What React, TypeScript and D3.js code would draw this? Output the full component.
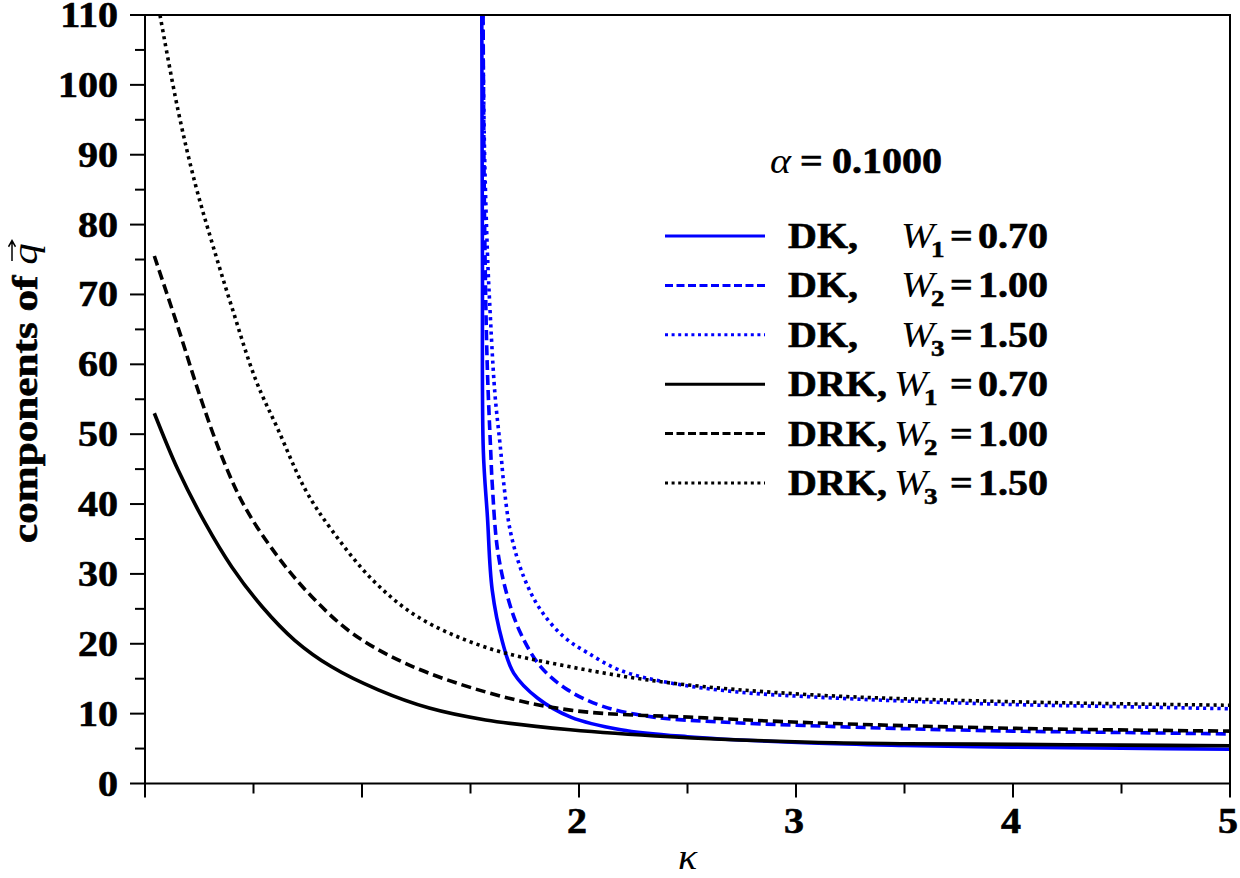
import React, { useRef, useState, useLayoutEffect } from 'react';
import * as d3 from 'd3';

// ---------- data ----------
const xMajorTicks = [0, 1, 2, 3, 4, 5];
const xTickLabels = ['', '', '2', '3', '4', '5'];
const xMinorTicks = [0.5, 1.5, 2.5, 3.5, 4.5];
const yMajorTicks = [0, 10, 20, 30, 40, 50, 60, 70, 80, 90, 100, 110];
const yMinorTicks = [5, 15, 25, 35, 45, 55, 65, 75, 85, 95, 105];

// DK (blue)
const dkW1Kappa = [1.552, 1.555, 1.559, 1.578, 1.6, 1.647, 1.699, 1.81, 1.962, 2.193, 2.5, 3.07, 3.5, 4.0, 4.5, 5.0];
const dkW1Values = [110, 75, 47.7, 38.2, 27.7, 20.3, 15.8, 12.2, 9.5, 7.7, 6.7, 5.8, 5.45, 5.2, 5.05, 4.9];

const dkW2Kappa = [1.558, 1.565, 1.577, 1.593, 1.6, 1.625, 1.671, 1.731, 1.824, 1.948, 2.114, 2.345, 2.655, 3.04, 3.5, 4.0, 4.5, 5.0];
const dkW2Values = [110, 80, 60, 47.7, 43.0, 33.4, 26.7, 21.5, 16.7, 13.4, 11.0, 9.5, 8.8, 8.3, 7.85, 7.5, 7.3, 7.1];

const dkW3Kappa = [1.556, 1.565, 1.578, 1.588, 1.612, 1.639, 1.653, 1.685, 1.745, 1.824, 1.93, 2.04, 2.19, 2.42, 2.73, 3.07, 3.5, 4.0, 4.5, 5.0];
const dkW3Values = [110, 90, 76, 69, 56, 47.7, 43, 35.9, 29.6, 24.8, 21.0, 18.7, 16.2, 14.4, 13.1, 12.4, 11.8, 11.3, 11.0, 10.7];

// DRK (black)
const drkW1Kappa = [0.043, 0.152, 0.277, 0.4, 0.54, 0.69, 0.86, 1.075, 1.31, 1.57, 1.96, 2.42, 3.07, 3.5, 4.0, 4.5, 5.0];
const drkW1Values = [53.0, 44.9, 37.3, 31.0, 25.3, 20.5, 16.7, 13.4, 10.8, 9.1, 7.7, 6.7, 5.9, 5.7, 5.6, 5.5, 5.4];

const drkW2Kappa = [0.043, 0.15, 0.254, 0.354, 0.46, 0.614, 0.77, 0.955, 1.2, 1.57, 1.96, 2.58, 3.07, 4.0, 5.0];
const drkW2Values = [75.5, 65.5, 55.4, 46.8, 39.6, 32.4, 26.7, 21.5, 17.2, 13.1, 10.5, 9.4, 8.7, 7.9, 7.5];

const drkW3Kappa = [0.069, 0.152, 0.23, 0.31, 0.4, 0.51, 0.614, 0.74, 0.86, 1.05, 1.26, 1.57, 1.96, 2.42, 3.07, 4.0, 5.0];
const drkW3Values = [110, 96.4, 86, 77.3, 68.2, 57.8, 50.6, 42.0, 36.3, 29.1, 23.8, 19.5, 16.7, 14.4, 12.7, 11.7, 11.2];

const legendMethods = ['DK,', 'DK,', 'DK,', 'DRK,', 'DRK,', 'DRK,'];
const legendSubs = ['1', '2', '3', '1', '2', '3'];
const legendWValues = ['0.70', '1.00', '1.50', '0.70', '1.00', '1.50'];

const BLUE = '#0000ff';
const BLACK = '#000000';

const series = [
  { k: dkW1Kappa, v: dkW1Values, color: BLUE, style: 'solid' },
  { k: dkW2Kappa, v: dkW2Values, color: BLUE, style: 'dashed' },
  { k: dkW3Kappa, v: dkW3Values, color: BLUE, style: 'dotted' },
  { k: drkW1Kappa, v: drkW1Values, color: BLACK, style: 'solid' },
  { k: drkW2Kappa, v: drkW2Values, color: BLACK, style: 'dashed' },
  { k: drkW3Kappa, v: drkW3Values, color: BLACK, style: 'dotted' },
];

const curveDash: Record<string, string | undefined> = { solid: undefined, dashed: '10,5', dotted: '3.2,4' };
const legendDash: Record<string, string | undefined> = { solid: undefined, dashed: '8,3.5', dotted: '3,3.6' };

const FONT = '"Liberation Serif", serif';
const SQ = 0.89;

function T(props: any) {
  const { x, y, anchor = 'start', size = 40, italic = false, bold = true, children } = props;
  return (
    <text
      transform={`translate(${x},${y}) scale(1,${SQ})`}
      textAnchor={anchor}
      fontFamily={FONT}
      fontSize={size}
      fontStyle={italic ? 'italic' : 'normal'}
      fontWeight={bold ? 'bold' : 'normal'}
      fill="#000"
      stroke={bold ? '#000' : 'none'}
      strokeWidth={bold ? 0.7 : 0}
    >
      {children}
    </text>
  );
}

export default function App() {
  const left = 145, right = 1230, top = 15, bottom = 783.5;
  const x = d3.scaleLinear().domain([0, 5]).range([left, right]);
  const y = d3.scaleLinear().domain([0, 110]).range([bottom, top]);

  const line = d3
    .line<[number, number]>()
    .x((d) => x(d[0]))
    .y((d) => y(d[1]))
    .curve(d3.curveCatmullRom.alpha(0.5));

  const labelRef = useRef<SVGTextElement>(null);
  const [qx, setQx] = useState(235);
  useLayoutEffect(() => {
    if (labelRef.current) setQx(labelRef.current.getComputedTextLength() + 9);
  }, []);

  const rowY0 = 236;
  const rowStep = 49.4;

  return (
    <svg
      width={1240}
      height={878}
      viewBox="0 0 1240 878"
      style={{ position: 'absolute', left: 0, top: 0, background: '#fff' }}
    >
      <rect x={0} y={0} width={1240} height={878} fill="#fff" />
      <defs>
        <clipPath id="plotClip">
          <rect x={left} y={top} width={right - left} height={bottom - top} />
        </clipPath>
      </defs>

      {/* curves */}
      <g clipPath="url(#plotClip)">
        {series.map((s, i) => (
          <path
            key={i}
            d={line(s.k.map((kk, j) => [kk, s.v[j]] as [number, number])) || ''}
            fill="none"
            stroke={s.color}
            strokeWidth={3.6}
            strokeDasharray={curveDash[s.style]}
          />
        ))}
      </g>

      {/* frame */}
      <path
        d={`M${left},${top} L${right},${top} L${right},${bottom} L${left},${bottom} Z`}
        fill="none"
        stroke="#000"
        strokeWidth={2}
      />

      {/* y ticks */}
      {yMajorTicks.map((t) => (
        <g key={'ym' + t}>
          <line x1={left - 15} x2={left} y1={y(t)} y2={y(t)} stroke="#000" strokeWidth={2} />
          <T x={118} y={y(t) + 12} anchor="end">
            {t}
          </T>
        </g>
      ))}
      {yMinorTicks.map((t) => (
        <line key={'yn' + t} x1={left - 10} x2={left} y1={y(t)} y2={y(t)} stroke="#000" strokeWidth={2} />
      ))}

      {/* x ticks */}
      {xMajorTicks.map((t, i) => (
        <g key={'xm' + t}>
          <line x1={x(t)} x2={x(t)} y1={bottom} y2={bottom + 14} stroke="#000" strokeWidth={2} />
          {xTickLabels[i] !== '' && (
            <T x={x(t) - 2} y={833} anchor="middle">
              {xTickLabels[i]}
            </T>
          )}
        </g>
      ))}
      {xMinorTicks.map((t) => (
        <line key={'xn' + t} x1={x(t)} x2={x(t)} y1={bottom} y2={bottom + 10} stroke="#000" strokeWidth={2} />
      ))}

      {/* x label */}
      <T x={(left + right) / 2} y={869} anchor="middle" italic bold={false}>
        κ
      </T>

      {/* y label */}
      <g transform={`translate(37,543) rotate(-90) scale(1.2,1)`}>
        <text
          ref={labelRef}
          x={0}
          y={0}
          fontFamily={FONT}
          fontSize={36}
          fontWeight="bold"
          fill="#000"
          stroke="#000"
          strokeWidth={0.6}
        >
          components of
        </text>
        <text x={qx} y={0} fontFamily={FONT} fontSize={36} fontStyle="italic" fill="#000">
          q
        </text>
        <path
          d={`M${qx + 3},-25 L${qx + 20},-25 M${qx + 15},-28.5 L${qx + 20},-25 L${qx + 15},-21.5`}
          fill="none"
          stroke="#000"
          strokeWidth={1.5}
        />
      </g>

      {/* alpha */}
      <T x={770} y={173} italic bold={false}>α</T>
      <T x={800} y={173}>=</T>
      <T x={832} y={173}>0.1000</T>

      {/* legend */}
      {series.map((s, i) => {
        const ry = rowY0 + i * rowStep;
        const isDK = i < 3;
        const wx = isDK ? 901 : 894;
        return (
          <g key={'lg' + i}>
            <line
              x1={665}
              x2={765}
              y1={ry}
              y2={ry}
              stroke={s.color}
              strokeWidth={3}
              strokeDasharray={legendDash[s.style]}
            />
            <T x={788} y={ry + 12}>{legendMethods[i]}</T>
            <T x={wx} y={ry + 12} italic bold={false}>W</T>
            <T x={wx + 30} y={ry + 21} size={27}>{legendSubs[i]}</T>
            <T x={950} y={ry + 12}>=</T>
            <T x={978} y={ry + 12}>{legendWValues[i]}</T>
          </g>
        );
      })}
    </svg>
  );
}
